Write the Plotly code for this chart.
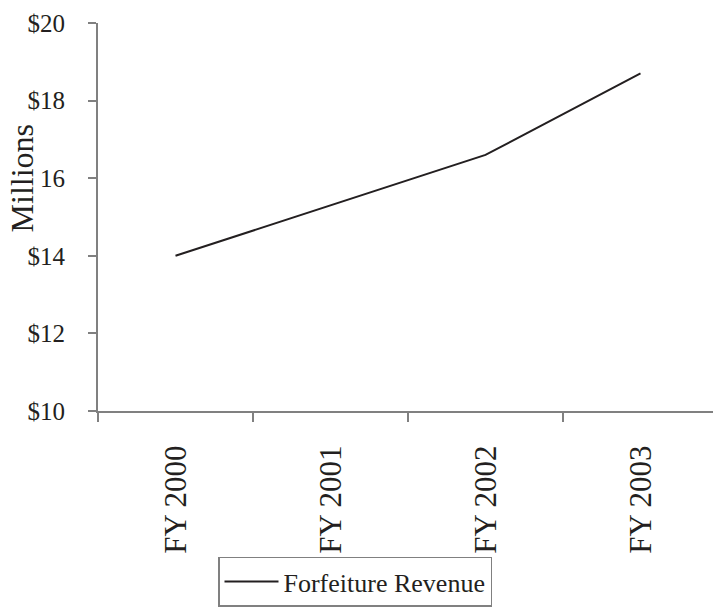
import plotly.graph_objects as go

# Forfeiture revenue by fiscal year, in millions of dollars
years = ["FY 2000", "FY 2001", "FY 2002", "FY 2003"]
revenue = [14.0, 15.3, 16.6, 18.7]

y_tickvals = [10, 12, 14, 16, 18, 20]
y_ticktext = ["$10", "$12", "$14", "16", "$18", "$20"]

FONT = "Liberation Serif, Times New Roman, serif"
INK = "#231f20"
AXIS_GREY = "#808080"

fig = go.Figure()
fig.add_trace(go.Scatter(
    x=years, y=revenue, mode="lines", name="Forfeiture Revenue",
    line=dict(color=INK, width=2),
))

W, H = 713, 607
L, R, T, B = 98, 0, 23, 192
plot_w = W - L - R
plot_h = H - T - B

fig.update_layout(
    width=W, height=H,
    margin=dict(l=L, r=R, t=T, b=B, pad=0),
    paper_bgcolor="white", plot_bgcolor="white",
    font=dict(family=FONT, size=25, color=INK),
    showlegend=True,
    legend=dict(
        x=(218 - L) / plot_w, y=(T + plot_h - 562) / plot_h,
        xanchor="left", yanchor="top",
        bordercolor=AXIS_GREY, borderwidth=1.5,
        font=dict(family=FONT, size=26, color=INK),
        bgcolor="white", itemwidth=54,
    ),
    xaxis=dict(
        type="category", range=[-0.5, -0.5 + plot_w / 155.0],
        tickson="boundaries", ticks="outside", ticklen=9,
        tickwidth=1.5, tickcolor=AXIS_GREY,
        showline=True, linecolor=AXIS_GREY, linewidth=2,
        showgrid=False, zeroline=False, tickangle=-90,
        ticklabelstandoff=20,
        tickfont=dict(family=FONT, size=31, color=INK),
    ),
    yaxis=dict(
        range=[10, 20], tickvals=y_tickvals, ticktext=y_ticktext,
        ticks="outside", ticklen=8, tickwidth=1.5, tickcolor=AXIS_GREY,
        showline=True, linecolor=AXIS_GREY, linewidth=2,
        showgrid=False, zeroline=False,
        ticklabelstandoff=18,
        tickfont=dict(family=FONT, size=25, color=INK),
    ),
    annotations=[dict(
        text="Millions", textangle=-90, xref="paper", yref="paper",
        x=(22 - L) / plot_w, y=(T + plot_h - 180) / plot_h,
        xanchor="center", yanchor="middle", showarrow=False,
        font=dict(family=FONT, size=32, color=INK),
    )],
)

fig.write_html("out.html")
